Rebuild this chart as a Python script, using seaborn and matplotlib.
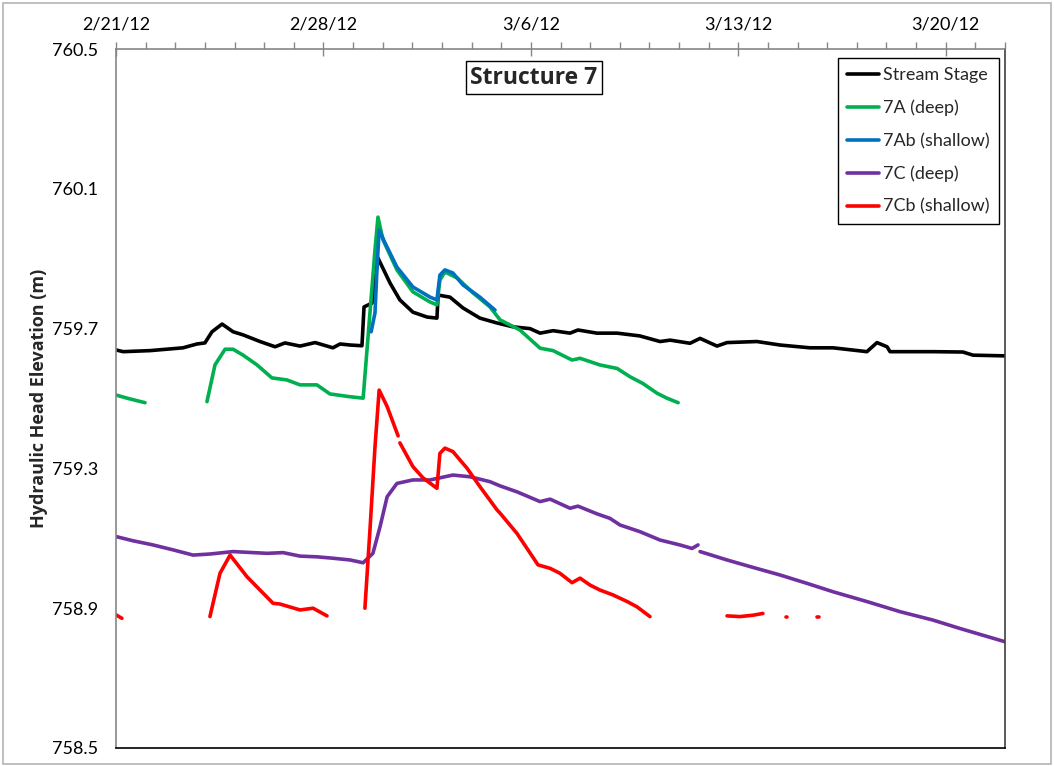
import numpy as np
import pandas as pd
import matplotlib
matplotlib.use("Agg")
import matplotlib.pyplot as plt
from matplotlib.ticker import MultipleLocator, FixedLocator, FixedFormatter, FormatStrFormatter
from matplotlib.patches import Rectangle
import matplotlib.dates as mdates
import seaborn as sns

# Logger records, time in days after 2/21/12 00:00; NaN marks a gap in the record
START = pd.Timestamp("2012-02-21")

stage_day = [0.0, 0.24, 1.15, 2.26, 2.73, 3.00, 3.24, 3.58, 3.95, 4.29, 4.86, 5.37, 5.70,
             6.21, 6.72, 7.32, 7.56, 7.90, 8.30, 8.37, 8.64, 8.84, 9.25, 9.58, 10.02,
             10.50, 10.83, 10.87, 11.27, 11.71, 12.28, 12.86, 13.40, 13.97, 14.31, 14.75,
             15.32, 15.59, 16.23, 16.91, 17.68, 18.36, 18.70, 19.37, 19.71, 20.28, 20.62,
             21.63, 22.41, 23.42, 24.20, 25.34, 25.68, 26.02, 26.12, 27.57, 28.58, 28.92, 30.0]
stage_m = [759.639, 759.634, 759.637, 759.645, 759.656, 759.659, 759.691, 759.713, 759.691,
           759.682, 759.663, 759.648, 759.659, 759.650, 759.660, 759.645, 759.656, 759.653,
           759.651, 759.762, 759.773, 759.902, 759.830, 759.782, 759.747, 759.733, 759.730,
           759.796, 759.790, 759.759, 759.730, 759.716, 759.705, 759.700, 759.687, 759.694,
           759.687, 759.696, 759.687, 759.687, 759.679, 759.663, 759.667, 759.658, 759.672,
           759.650, 759.660, 759.663, 759.653, 759.645, 759.645, 759.634, 759.660, 759.648,
           759.634, 759.634, 759.633, 759.624, 759.622]

a7_day = [0.0, 0.37, 0.98, np.nan,
          3.07, 3.34, 3.68, 3.95, 4.29, 4.76, 5.26, 5.77, 6.21, 6.78, 7.22, 7.90, 8.34,
          8.57, 8.74, 8.84, 9.01, 9.48, 10.02, 10.60, 10.83, 10.93, 11.10, 11.51, 12.05,
          12.62, 12.96, 13.63, 14.31, 14.75, 15.39, 15.66, 16.33, 16.91, 17.35, 17.78,
          18.26, 18.59, 18.97]
a7_m = [759.510, 759.501, 759.488, np.nan,
        759.491, 759.596, 759.641, 759.641, 759.624, 759.596, 759.559, 759.553, 759.539,
        759.539, 759.513, 759.505, 759.501, 759.745, 759.925, 760.019, 759.954, 759.868,
        759.805, 759.776, 759.768, 759.839, 759.862, 759.845, 759.802, 759.762, 759.725,
        759.696, 759.644, 759.637, 759.610, 759.615, 759.596, 759.586, 759.562, 759.543,
        759.515, 759.501, 759.488]

a7b_day = [8.61, 8.74, 8.81, 8.88, 9.08, 9.48, 10.02, 10.60, 10.83, 10.93, 11.10, 11.37,
           11.71, 12.28, 12.79]
a7b_m = [759.691, 759.745, 759.876, 759.982, 759.945, 759.876, 759.819, 759.790, 759.782,
         759.853, 759.868, 759.859, 759.825, 759.790, 759.753]

c7_day = [0.0, 0.57, 1.25, 1.92, 2.60, 3.17, 3.95, 5.10, 5.64, 6.21, 6.78, 7.32, 7.90, 8.34,
          8.67, 8.91, 9.15, 9.48, 10.02, 10.60, 11.37, 11.95, 12.62, 12.96, 13.53, 14.31,
          14.65, 15.32, 15.59, 16.23, 16.67, 17.01, 17.68, 18.36, 19.03, 19.44, 19.64, np.nan,
          19.71, 20.62, 21.40, 22.41, 23.32, 24.20, 25.34, 26.46, 27.57, 28.48, 30.0]
c7_m = [759.105, 759.093, 759.081, 759.067, 759.052, 759.055, 759.062, 759.057, 759.059,
        759.049, 759.047, 759.043, 759.038, 759.030, 759.057, 759.133, 759.219, 759.257,
        759.267, 759.267, 759.281, 759.276, 759.262, 759.250, 759.233, 759.205, 759.212,
        759.186, 759.192, 759.170, 759.157, 759.138, 759.119, 759.095, 759.081, 759.071,
        759.081, np.nan,
        759.062, 759.038, 759.019, 758.995, 758.971, 758.947, 758.919, 758.890, 758.866,
        758.842, 758.804]

c7b_day = [0.0, 0.20, np.nan,
           3.17, 3.51, 3.85, 4.42, 4.86, 5.30, 5.53, 6.21, 6.65, 7.12, np.nan,
           8.40, 8.57, 8.74, 8.88, 9.15, 9.52, np.nan,
           9.58, 10.02, 10.36, 10.83, 10.93, 11.10, 11.37, 11.85, 12.28, 12.86, 12.96, 13.53,
           13.87, 14.24, 14.65, 14.98, 15.39, 15.66, 16.00, 16.33, 16.77, 17.25, 17.58, 18.02,
           np.nan,
           20.62, 21.06, 21.50, 21.83, np.nan,
           22.62, 22.66, np.nan,
           23.67, 23.71]
c7b_m = [758.881, 758.871, np.nan,
         758.876, 759.000, 759.052, 758.990, 758.952, 758.914, 758.912, 758.895, 758.900,
         758.878, np.nan,
         758.900, 759.124, 759.362, 759.524, 759.477, 759.393, np.nan,
         759.373, 759.305, 759.273, 759.243, 759.343, 759.358, 759.348, 759.300, 759.248,
         759.181, 759.172, 759.114, 759.071, 759.024, 759.014, 759.000, 758.973, 758.986,
         758.966, 758.952, 758.938, 758.919, 758.904, 758.876, np.nan,
         758.878, 758.876, 758.880, 758.885, np.nan,
         758.874, 758.874, np.nan,
         758.874, 758.874]

series_names = ["Stream Stage", "7A (deep)", "7Ab (shallow)", "7C (deep)", "7Cb (shallow)"]
series_colors = ["#000000", "#00B050", "#0070C0", "#7030A0", "#FF0000"]

xtick_labels = ["2/21/12", "2/28/12", "3/6/12", "3/13/12", "3/20/12"]
xtick_dates = ["2012-02-21", "2012-02-28", "2012-03-06", "2012-03-13", "2012-03-20"]
x_end = "2012-03-22"
ytick_values = [758.5, 758.9, 759.3, 759.7, 760.1, 760.5]


def to_frame(name, days, vals):
    d = np.asarray(days, dtype=float)
    v = np.asarray(vals, dtype=float)
    seg = np.cumsum(np.isnan(v))
    keep = ~np.isnan(v)
    return pd.DataFrame({
        "time": START + pd.to_timedelta(d[keep], unit="D"),
        "head": v[keep],
        "series": name,
        "segment": [f"{name}-{s}" for s in seg[keep]],
    })


df = pd.concat([
    to_frame(series_names[0], stage_day, stage_m),
    to_frame(series_names[1], a7_day, a7_m),
    to_frame(series_names[2], a7b_day, a7b_m),
    to_frame(series_names[3], c7_day, c7_m),
    to_frame(series_names[4], c7b_day, c7b_m),
], ignore_index=True)

sns.set_theme(style="white")
plt.rcParams["font.family"] = ["Lato", "DejaVu Sans"]
BOLD_FAMILY = ["Open Sans", "DejaVu Sans"]

W, H = 1054, 766
fig = plt.figure(figsize=(W / 100, H / 100), dpi=100)
fig.patch.set_facecolor("white")
ax = fig.add_axes([116 / W, 1 - 748 / H, (1005 - 116) / W, (748 - 49) / H])

sns.lineplot(data=df, x="time", y="head", hue="series", units="segment",
             estimator=None, sort=True, hue_order=series_names,
             palette=dict(zip(series_names, series_colors)),
             linewidth=2.6, solid_capstyle="round", ax=ax)

# Axes limits and ticks
ax.set_xlim(pd.Timestamp(xtick_dates[0]), pd.Timestamp(x_end))
ax.set_ylim(ytick_values[0], ytick_values[-1])

ax.xaxis.set_major_locator(FixedLocator(mdates.date2num(pd.to_datetime(xtick_dates))))
ax.xaxis.set_major_formatter(FixedFormatter(xtick_labels))
ax.xaxis.set_minor_locator(mdates.DayLocator())
ax.yaxis.set_major_locator(FixedLocator(ytick_values))
ax.yaxis.set_major_formatter(FormatStrFormatter("%.1f"))
ax.yaxis.set_minor_locator(MultipleLocator(0.1))

ax.xaxis.tick_top()
ax.tick_params(axis="x", which="both", top=True, bottom=False, labeltop=True, labelbottom=False)
tick_grey = "#868686"
ax.tick_params(axis="x", which="major", direction="inout", length=10, width=1,
               color=tick_grey, labelsize=13, labelcolor="black", pad=7)
ax.tick_params(axis="x", which="minor", direction="out", length=5, width=1, color=tick_grey)
ax.tick_params(axis="y", which="major", direction="inout", length=8.6, width=1,
               color=tick_grey, labelsize=13, labelcolor="black", pad=8.7)
ax.tick_params(axis="y", which="minor", direction="out", length=4.3, width=1, color=tick_grey)

ax.set_xlabel("")
ax.set_ylabel("Hydraulic Head Elevation (m)", fontsize=13, fontweight="bold",
              family=BOLD_FAMILY, labelpad=3)

for side, col in [("left", tick_grey), ("top", tick_grey), ("right", "#404040"), ("bottom", "#000000")]:
    ax.spines[side].set_visible(True)
    ax.spines[side].set_color(col)
    ax.spines[side].set_linewidth(1.2)

# Chart title in a box
ax.text(0.470, 0.959, "Structure 7", transform=ax.transAxes, ha="center", va="center",
        fontsize=16.5, fontweight="bold", family=BOLD_FAMILY,
        bbox=dict(boxstyle="square,pad=0.2", facecolor="white", edgecolor="black", linewidth=1))

# Legend
handles, labels = ax.get_legend_handles_labels()
leg = ax.legend(handles, labels, loc="upper right", bbox_to_anchor=(0.9933, 0.987),
                borderaxespad=0, frameon=True, fancybox=False, fontsize=13,
                handlelength=1.75, handletextpad=0.25, labelspacing=0.92,
                borderpad=0.5, framealpha=1)
leg.get_frame().set_edgecolor("black")
leg.get_frame().set_linewidth(1)
for ln in leg.get_lines():
    ln.set_linewidth(2.6)

# Outer chart border
fig.patches.append(Rectangle((3 / W, 2 / H), (W - 6) / W, (H - 5) / H, transform=fig.transFigure,
                             fill=False, edgecolor="#b4b4b4", linewidth=1.2))

fig.savefig("out.png", dpi=100)
